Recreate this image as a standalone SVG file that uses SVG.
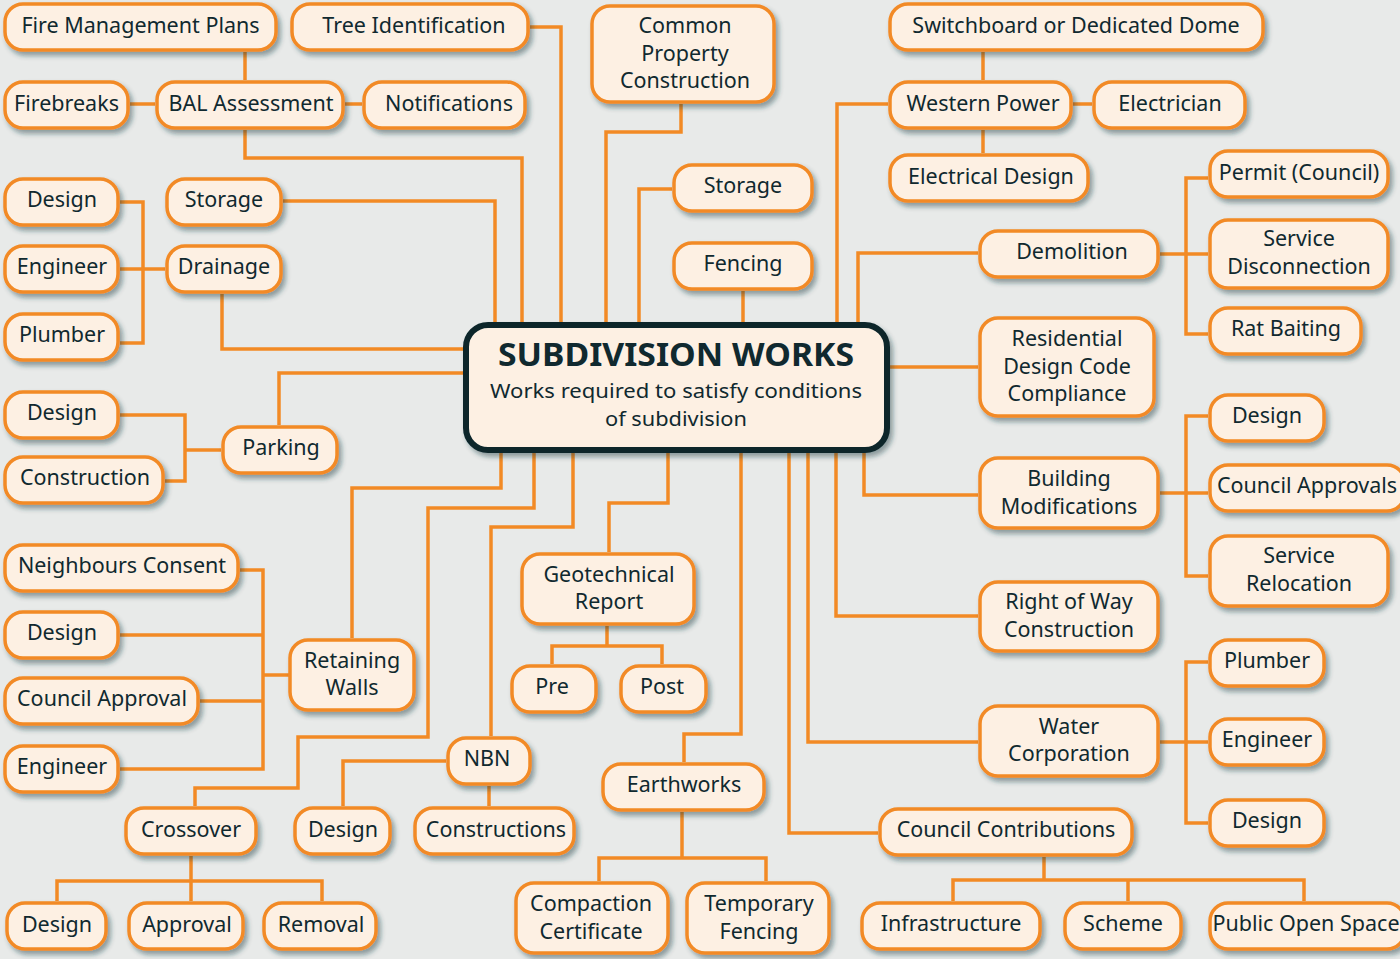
<svg xmlns="http://www.w3.org/2000/svg" width="1400" height="959" viewBox="0 0 1400 959">
<defs>
<filter id="sh" x="-20%" y="-30%" width="140%" height="170%">
<feDropShadow dx="3" dy="4" stdDeviation="2.5" flood-color="#1d3a40" flood-opacity="0.45"/>
</filter>
<style>
.n rect{fill:#fdf0e3;stroke:#f28a25;stroke-width:3.5;filter:url(#sh)}
.n text{font-family:"Noto Sans","Open Sans",sans-serif;font-size:21.5px;fill:#10292f;text-anchor:middle}
.c polyline{fill:none;stroke:#f28a25;stroke-width:3.5;stroke-linejoin:miter}
.hub rect{fill:#fdf0e3;stroke:#0b262c;stroke-width:6;filter:url(#sh)}
.hub text{font-family:"Noto Sans","Open Sans",sans-serif;fill:#10292f;text-anchor:middle}
</style>
</defs>
<rect width="1400" height="959" fill="#e8eae9"/>
<g id="connectors" class="c">
<polyline points="245,52 245,80"/>
<polyline points="130,104 155,104"/>
<polyline points="345,104 362,104"/>
<polyline points="245,130 245,158 522,158 522,323"/>
<polyline points="530,27 561,27 561,323"/>
<polyline points="681,104 681,132 606,132 606,323"/>
<polyline points="672,189 639,189 639,323"/>
<polyline points="743,291 743,323"/>
<polyline points="888,104 837,104 837,323"/>
<polyline points="983,52 983,80"/>
<polyline points="1073,104 1092,104"/>
<polyline points="983,130 983,153"/>
<polyline points="978,253 858,253 858,323"/>
<polyline points="1160,254 1186,254"/>
<polyline points="1208,178 1186,178 1186,334 1208,334"/>
<polyline points="1186,254 1208,254"/>
<polyline points="889,367 978,367"/>
<polyline points="864,453 864,495 978,495"/>
<polyline points="1160,493 1208,493"/>
<polyline points="1208,416 1186,416 1186,576 1208,576"/>
<polyline points="836,453 836,616 978,616"/>
<polyline points="808,453 808,742 978,742"/>
<polyline points="1160,742 1208,742"/>
<polyline points="1208,662 1186,662 1186,823 1208,823"/>
<polyline points="789,453 789,833 878,833"/>
<polyline points="1044,857 1044,880"/>
<polyline points="953,901 953,880 1304,880 1304,901"/>
<polyline points="1128,880 1128,901"/>
<polyline points="741,453 741,734 684,734 684,762"/>
<polyline points="682,812 682,858"/>
<polyline points="599,881 599,858 766,858 766,881"/>
<polyline points="668,453 668,503 609,503 609,552"/>
<polyline points="607,626 607,646"/>
<polyline points="552,664 552,646 662,646 662,664"/>
<polyline points="573,453 573,527 491,527 491,736"/>
<polyline points="446,761 343,761 343,806"/>
<polyline points="489,786 489,806"/>
<polyline points="534,453 534,508 428,508 428,737 298,737 298,788 195,788 195,806"/>
<polyline points="191,856 191,901"/>
<polyline points="57,901 57,881 322,881 322,901"/>
<polyline points="501,453 501,488 352,488 352,638"/>
<polyline points="289,675 263,675"/>
<polyline points="240,570 263,570 263,769 120,769"/>
<polyline points="120,635 263,635"/>
<polyline points="200,701 263,701"/>
<polyline points="463,349 222,349 222,294"/>
<polyline points="283,201 495,201 495,323"/>
<polyline points="165,269 120,269"/>
<polyline points="120,202 143,202 143,343 120,343"/>
<polyline points="463,373 279,373 279,425"/>
<polyline points="221,450 185,450"/>
<polyline points="120,415 185,415 185,481 165,481"/>
</g>
<g id="hub" class="hub">
<rect x="466" y="325" width="421" height="125" rx="22"/>
<text x="676" y="366" font-size="32" font-weight="bold" textLength="356" lengthAdjust="spacingAndGlyphs">SUBDIVISION WORKS</text>
<text x="676" y="398" font-size="20.5" textLength="372" lengthAdjust="spacingAndGlyphs">Works required to satisfy conditions</text>
<text x="676" y="426" font-size="20.5" textLength="142" lengthAdjust="spacingAndGlyphs">of subdivision</text>
</g>
<g id="fire" class="n"><rect x="5" y="4" width="271" height="46" rx="18"/><text x="140.5" y="33">Fire Management Plans</text></g>
<g id="tree" class="n"><rect x="292" y="4" width="236" height="46" rx="18"/><text x="414" y="33">Tree Identification</text></g>
<g id="firebreaks" class="n"><rect x="5" y="82" width="123" height="46" rx="18"/><text x="66.5" y="111">Firebreaks</text></g>
<g id="bal" class="n"><rect x="157" y="82" width="186" height="46" rx="18"/><text x="251" y="111">BAL Assessment</text></g>
<g id="notifications" class="n"><rect x="364" y="82" width="161" height="46" rx="18"/><text x="449" y="111">Notifications</text></g>
<g id="common" class="n"><rect x="592" y="6" width="182" height="96" rx="18"/><text x="685" y="33">Common</text><text x="685" y="61">Property</text><text x="685" y="88">Construction</text></g>
<g id="switchboard" class="n"><rect x="890" y="4" width="373" height="46" rx="18"/><text x="1076" y="33">Switchboard or Dedicated Dome</text></g>
<g id="western" class="n"><rect x="890" y="82" width="181" height="46" rx="18"/><text x="983" y="111">Western Power</text></g>
<g id="electrician" class="n"><rect x="1094" y="82" width="151" height="46" rx="18"/><text x="1170" y="111">Electrician</text></g>
<g id="elecdesign" class="n"><rect x="890" y="155" width="198" height="46" rx="18"/><text x="991" y="184">Electrical Design</text></g>
<g id="permit" class="n"><rect x="1210" y="151" width="178" height="46" rx="18"/><text x="1299" y="180">Permit (Council)</text></g>
<g id="servdisc" class="n"><rect x="1210" y="220" width="178" height="68" rx="18"/><text x="1299" y="246">Service</text><text x="1299" y="274">Disconnection</text></g>
<g id="rat" class="n"><rect x="1210" y="308" width="151" height="46" rx="18"/><text x="1286" y="336">Rat Baiting</text></g>
<g id="demolition" class="n"><rect x="980" y="231" width="178" height="46" rx="18"/><text x="1072" y="259">Demolition</text></g>
<g id="residential" class="n"><rect x="980" y="318" width="174" height="98" rx="18"/><text x="1067" y="346">Residential</text><text x="1067" y="374">Design Code</text><text x="1067" y="401">Compliance</text></g>
<g id="design-bm" class="n"><rect x="1210" y="395" width="114" height="46" rx="18"/><text x="1267" y="423">Design</text></g>
<g id="councilapprovals" class="n"><rect x="1210" y="465" width="195" height="46" rx="18"/><text x="1307" y="493">Council Approvals</text></g>
<g id="buildingmod" class="n"><rect x="980" y="458" width="178" height="70" rx="18"/><text x="1069" y="486">Building</text><text x="1069" y="514">Modifications</text></g>
<g id="servreloc" class="n"><rect x="1210" y="536" width="178" height="70" rx="18"/><text x="1299" y="563">Service</text><text x="1299" y="591">Relocation</text></g>
<g id="rightofway" class="n"><rect x="980" y="582" width="178" height="69" rx="18"/><text x="1069" y="609">Right of Way</text><text x="1069" y="637">Construction</text></g>
<g id="plumber-w" class="n"><rect x="1210" y="640" width="114" height="46" rx="18"/><text x="1267" y="668">Plumber</text></g>
<g id="water" class="n"><rect x="980" y="706" width="178" height="70" rx="18"/><text x="1069" y="734">Water</text><text x="1069" y="761">Corporation</text></g>
<g id="engineer-w" class="n"><rect x="1210" y="719" width="114" height="46" rx="18"/><text x="1267" y="747">Engineer</text></g>
<g id="design-w" class="n"><rect x="1210" y="800" width="114" height="46" rx="18"/><text x="1267" y="828">Design</text></g>
<g id="councilcontrib" class="n"><rect x="880" y="809" width="252" height="46" rx="18"/><text x="1006" y="837">Council Contributions</text></g>
<g id="infrastructure" class="n"><rect x="862" y="903" width="178" height="46" rx="18"/><text x="951" y="931">Infrastructure</text></g>
<g id="scheme" class="n"><rect x="1065" y="903" width="116" height="46" rx="18"/><text x="1123" y="931">Scheme</text></g>
<g id="pos" class="n"><rect x="1210" y="903" width="195" height="46" rx="18"/><text x="1306" y="931">Public Open Space</text></g>
<g id="storage-m" class="n"><rect x="674" y="165" width="138" height="46" rx="18"/><text x="743" y="193">Storage</text></g>
<g id="fencing" class="n"><rect x="674" y="243" width="138" height="46" rx="18"/><text x="743" y="271">Fencing</text></g>
<g id="geo" class="n"><rect x="522" y="554" width="172" height="70" rx="18"/><text x="609" y="582">Geotechnical</text><text x="609" y="609">Report</text></g>
<g id="pre" class="n"><rect x="512" y="666" width="84" height="46" rx="18"/><text x="552" y="694">Pre</text></g>
<g id="post" class="n"><rect x="621" y="666" width="85" height="46" rx="18"/><text x="662" y="694">Post</text></g>
<g id="earthworks" class="n"><rect x="603" y="764" width="161" height="46" rx="18"/><text x="684" y="792">Earthworks</text></g>
<g id="compaction" class="n"><rect x="516" y="883" width="152" height="70" rx="18"/><text x="591" y="911">Compaction</text><text x="591" y="939">Certificate</text></g>
<g id="tempfencing" class="n"><rect x="687" y="883" width="142" height="70" rx="18"/><text x="759" y="911">Temporary</text><text x="759" y="939">Fencing</text></g>
<g id="nbn" class="n"><rect x="448" y="738" width="82" height="46" rx="18"/><text x="487" y="766">NBN</text></g>
<g id="design-nbn" class="n"><rect x="295" y="808" width="95" height="46" rx="18"/><text x="343" y="837">Design</text></g>
<g id="constructions" class="n"><rect x="415" y="808" width="159" height="46" rx="18"/><text x="496" y="837">Constructions</text></g>
<g id="design-dr" class="n"><rect x="5" y="179" width="113" height="46" rx="18"/><text x="62" y="207">Design</text></g>
<g id="engineer-dr" class="n"><rect x="5" y="246" width="113" height="46" rx="18"/><text x="62" y="274">Engineer</text></g>
<g id="plumber-dr" class="n"><rect x="5" y="314" width="113" height="46" rx="18"/><text x="62" y="342">Plumber</text></g>
<g id="storage-l" class="n"><rect x="167" y="179" width="114" height="46" rx="18"/><text x="224" y="207">Storage</text></g>
<g id="drainage" class="n"><rect x="167" y="246" width="114" height="46" rx="18"/><text x="224" y="274">Drainage</text></g>
<g id="design-pk" class="n"><rect x="5" y="392" width="113" height="46" rx="18"/><text x="62" y="420">Design</text></g>
<g id="construction-pk" class="n"><rect x="5" y="457" width="158" height="46" rx="18"/><text x="85" y="485">Construction</text></g>
<g id="parking" class="n"><rect x="223" y="427" width="114" height="46" rx="18"/><text x="281" y="455">Parking</text></g>
<g id="neighbours" class="n"><rect x="5" y="545" width="233" height="46" rx="18"/><text x="122" y="573">Neighbours Consent</text></g>
<g id="design-rw" class="n"><rect x="5" y="612" width="113" height="46" rx="18"/><text x="62" y="640">Design</text></g>
<g id="councilapproval" class="n"><rect x="5" y="678" width="193" height="46" rx="18"/><text x="102" y="706">Council Approval</text></g>
<g id="engineer-rw" class="n"><rect x="5" y="746" width="113" height="46" rx="18"/><text x="62" y="774">Engineer</text></g>
<g id="retaining" class="n"><rect x="290" y="640" width="124" height="70" rx="18"/><text x="352" y="668">Retaining</text><text x="352" y="695">Walls</text></g>
<g id="crossover" class="n"><rect x="126" y="808" width="130" height="46" rx="18"/><text x="191" y="837">Crossover</text></g>
<g id="design-co" class="n"><rect x="7" y="903" width="99" height="46" rx="18"/><text x="57" y="932">Design</text></g>
<g id="approval" class="n"><rect x="129" y="903" width="114" height="46" rx="18"/><text x="187" y="932">Approval</text></g>
<g id="removal" class="n"><rect x="264" y="903" width="112" height="46" rx="18"/><text x="321" y="932">Removal</text></g>
</svg>
